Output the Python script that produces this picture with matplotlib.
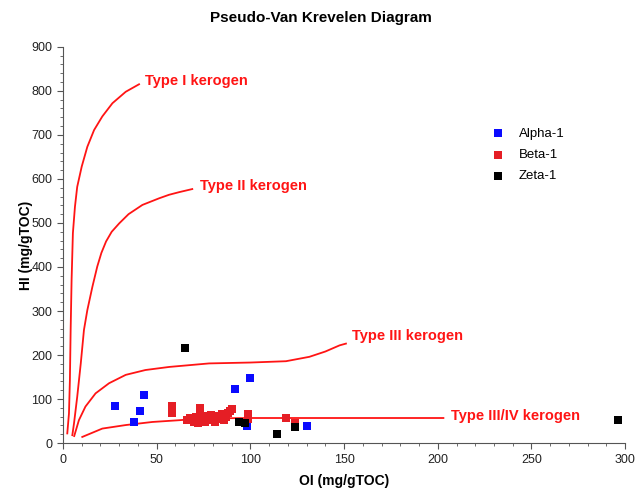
import numpy as np
import matplotlib
matplotlib.use("Agg")
import matplotlib.pyplot as plt
from matplotlib.ticker import MultipleLocator

plt.rcParams['font.family'] = ['Liberation Sans', 'DejaVu Sans']

# Sample data (OI, HI)
alpha_oi = [28, 38, 41, 43, 92, 100, 98, 130]
alpha_hi = [85, 47, 73, 109, 123, 148, 39, 39]

beta_oi = [58, 58, 58, 66, 68, 70, 71, 72, 73, 73, 74, 75, 76, 77, 78, 79, 80, 81,
           82, 83, 84, 85, 86, 87, 88, 89, 90, 99, 99, 119, 124]
beta_hi = [85, 77, 68, 52, 58, 48, 60, 45, 70, 80, 55, 62, 48, 57, 52, 64, 58, 47,
           62, 55, 60, 65, 52, 60, 68, 72, 78, 65, 55, 58, 45]

zeta_oi = [65, 94, 97, 114, 124, 296]
zeta_hi = [215, 48, 45, 20, 37, 52]

# Kerogen type boundary curves
type1_oi = [2.3, 3.2, 3.7, 4.1, 4.6, 5.3, 6.4, 7.6, 10, 13, 16.6, 21, 26.4, 33.5, 40.6]
type1_hi = [22, 67, 143, 257, 370, 477, 537, 582, 628, 673, 711, 742, 772, 798, 815]
type2_oi = [5, 5.9, 7.6, 9.5, 11.2, 13, 15.7, 18.3, 20.5, 23, 26, 30, 35, 42.4, 51.3, 56.6, 62, 69]
type2_hi = [18, 45, 105, 181, 257, 302, 355, 401, 432, 458, 480, 499, 520, 541, 556, 564, 570, 577]
type3_oi = [6, 8.5, 12, 17.4, 24.6, 33.5, 44, 56.7, 78, 100, 119, 131.5, 140, 147.6, 151]
type3_hi = [16, 52, 83, 113, 136, 155, 166, 173, 181, 183, 186, 196, 208, 222, 226]
type34_oi = [10.3, 21, 33.5, 47.7, 62, 74, 100, 150, 203]
type34_hi = [14, 33, 41, 48, 52, 56, 57, 57, 57]

curve_labels = ['Type I kerogen', 'Type II kerogen', 'Type III kerogen', 'Type III/IV kerogen']
label_oi = [44, 73, 154, 207]
label_hi = [823, 585, 244, 61]

fig = plt.figure(figsize=(6.36, 4.88), dpi=100)
ax = fig.add_axes([0.099, 0.092, 0.884, 0.812])

red = '#ff1414'
for xs, ys in [(type1_oi, type1_hi), (type2_oi, type2_hi), (type3_oi, type3_hi), (type34_oi, type34_hi)]:
    ax.plot(xs, ys, color=red, lw=1.3, zorder=2, solid_joinstyle='round')

for txt, x, y in zip(curve_labels, label_oi, label_hi):
    ax.text(x, y, txt, color=red, fontsize=10.5, fontweight='bold', va='center', ha='left')

ax.scatter(alpha_oi, alpha_hi, marker='s', s=40, color='#0a0aff', label='Alpha-1', zorder=3, linewidths=0)
ax.scatter(beta_oi, beta_hi, marker='s', s=40, color='#e51e25', label='Beta-1', zorder=3, linewidths=0)
ax.scatter(zeta_oi, zeta_hi, marker='s', s=40, color='black', label='Zeta-1', zorder=4, linewidths=0)

ax.set_xlim(0, 300)
ax.set_ylim(0, 900)
ax.xaxis.set_major_locator(MultipleLocator(50))
ax.xaxis.set_minor_locator(MultipleLocator(10))
ax.yaxis.set_major_locator(MultipleLocator(100))
ax.yaxis.set_minor_locator(MultipleLocator(20))
for side in ['top', 'right']:
    ax.spines[side].set_visible(False)
for side in ['left', 'bottom']:
    ax.spines[side].set_color('#555555')
ax.tick_params(which='both', direction='out', colors='#555555', labelcolor='#222222', labelsize=9)
ax.tick_params(which='major', length=4)
ax.tick_params(which='minor', length=2)

ax.set_xlabel('OI (mg/gTOC)', fontsize=10, fontweight='bold')
ax.set_ylabel('HI (mg/gTOC)', fontsize=10, fontweight='bold')
ax.xaxis.set_label_coords(0.5, -0.077)
ax.yaxis.set_label_coords(-0.053, 0.5)
fig.text(0.505, 0.963, 'Pseudo-Van Krevelen Diagram', ha='center', va='center',
         fontsize=11, fontweight='bold')

ax.legend(loc='upper left', bbox_to_anchor=(0.729, 0.826), frameon=False, fontsize=9.5,
          handletextpad=0.6, labelspacing=0.68, markerscale=0.9)

fig.savefig('out.png', dpi=100)
